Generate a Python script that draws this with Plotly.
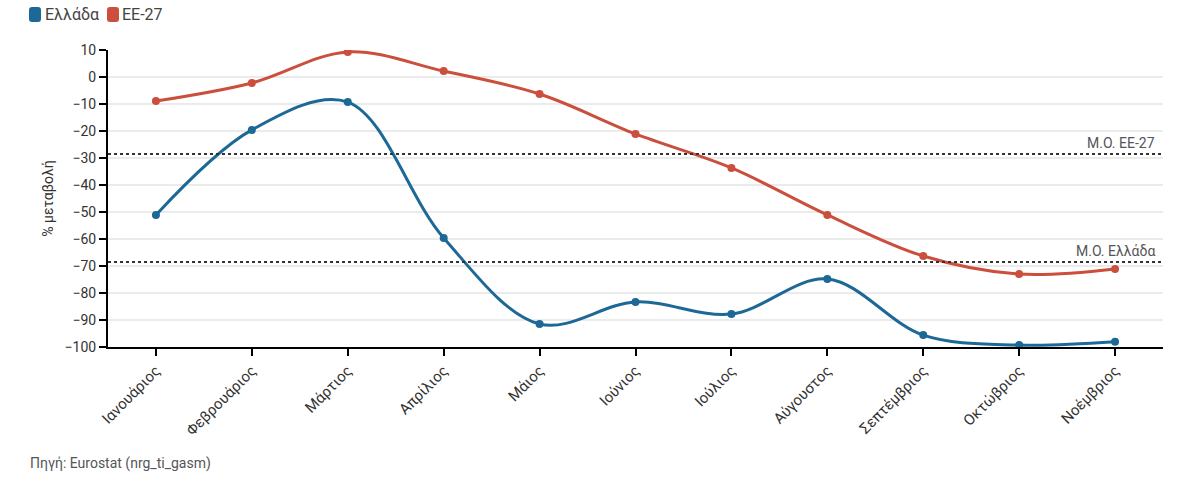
import plotly.graph_objects as go

months = ["Ιανουάριος", "Φεβρουάριος", "Μάρτιος", "Απρίλιος", "Μάιος", "Ιούνιος",
          "Ιούλιος", "Αύγουστος", "Σεπτέμβριος", "Οκτώβριος", "Νοέμβριος"]
greece = [-51.1, -19.6, -9.3, -59.6, -91.5, -83.3, -87.8, -74.8, -95.6, -99.3, -98.1]
eu27 = [-8.9, -2.2, 9.3, 2.2, -6.3, -21.1, -33.7, -51.1, -66.3, -73.0, -71.1]
avg_eu27 = -28.5
avg_greece = -68.5
yticks = [10, 0, -10, -20, -30, -40, -50, -60, -70, -80, -90, -100]
series_names = ["Ελλάδα", "ΕΕ-27"]

BLUE = "#1c6896"
RED = "#cb4f3c"
FONT = "Roboto"

W, H = 1190, 488
L, R, T, B = 108, 27, 50, 141
PW, PH = W - L - R, H - T - B


def px(x):
    return (x - L) / PW


def py(y):
    return (T + PH - y) / PH


fig = go.Figure()
for name, vals, col in [(series_names[0], greece, BLUE), (series_names[1], eu27, RED)]:
    fig.add_trace(go.Scatter(
        x=months, y=vals, mode="lines+markers", name=name,
        line=dict(color=col, width=3, shape="spline", smoothing=1.0),
        marker=dict(color=col, size=8), showlegend=False,
    ))


def rounded_rect(x0, y0, x1, y1, r):
    X0, X1 = px(x0), px(x1)
    Y0, Y1 = py(y0), py(y1)
    rx, ry = r / PW, r / PH
    return (f"M {X0+rx},{Y0} L {X1-rx},{Y0} Q {X1},{Y0} {X1},{Y0-ry} "
            f"L {X1},{Y1+ry} Q {X1},{Y1} {X1-rx},{Y1} L {X0+rx},{Y1} "
            f"Q {X0},{Y1} {X0},{Y1+ry} L {X0},{Y0-ry} Q {X0},{Y0} {X0+rx},{Y0} Z")


for (sx, tx), name, col in zip([(29, 45), (107, 122)], series_names, [BLUE, RED]):
    fig.add_shape(type="path", xref="paper", yref="paper",
                  path=rounded_rect(sx, 7, sx + 12, 22, 3),
                  fillcolor=col, line=dict(width=0))
    fig.add_annotation(xref="paper", x=px(tx), yref="paper", y=py(15),
                       text=name, showarrow=False, xanchor="left", yanchor="middle",
                       xshift=-2,
                       font=dict(family=FONT, size=16, color="#444444"))

for val, label in [(avg_eu27, "Μ.Ο. ΕΕ-27"), (avg_greece, "Μ.Ο. Ελλάδα")]:
    fig.add_shape(type="line", xref="paper", x0=0, x1=1, yref="y", y0=val, y1=val,
                  line=dict(color="#333333", width=2, dash="dot"), layer="above")
    fig.add_annotation(xref="paper", x=px(1157), yref="y", y=val, text=label,
                       showarrow=False, xanchor="right", yanchor="bottom", yshift=1,
                       font=dict(family=FONT, size=14, color="#555555"))

fig.add_annotation(xref="paper", x=px(30), yref="paper", y=py(463),
                   text="Πηγή: Eurostat (nrg_ti_gasm)", showarrow=False,
                   xanchor="left", yanchor="middle", xshift=-2,
                   font=dict(family=FONT, size=14, color="#555555"))

fig.update_layout(
    width=W, height=H,
    margin=dict(l=L, r=R, t=T, b=B),
    paper_bgcolor="white", plot_bgcolor="white",
    font=dict(family=FONT, size=14, color="#333333"),
    showlegend=False,
    xaxis=dict(type="category", categoryorder="array", categoryarray=months,
               range=[-0.5, len(months) - 0.5],
               automargin=False,
               showline=True, linecolor="black", linewidth=2,
               ticks="outside", ticklen=7, tickwidth=2, tickcolor="black",
               tickangle=-45, showgrid=False, zeroline=False,
               tickfont=dict(family=FONT, size=15, color="#333333")),
    yaxis=dict(range=[-100, 10], tickvals=yticks, showline=True, linecolor="black",
               automargin=False,
               linewidth=2, ticks="outside", ticklen=7, tickwidth=2, tickcolor="black",
               showgrid=True, gridcolor="#ebebeb", gridwidth=2, zeroline=False,
               title=dict(text="% μεταβολή", standoff=8,
                          font=dict(family=FONT, size=14, color="#333333")),
               tickfont=dict(family=FONT, size=14, color="#333333")),
)

fig.write_html("out.html", config={"displayModeBar": False},
               post_script="document.body.style.margin='0';document.body.style.overflow='hidden';")
